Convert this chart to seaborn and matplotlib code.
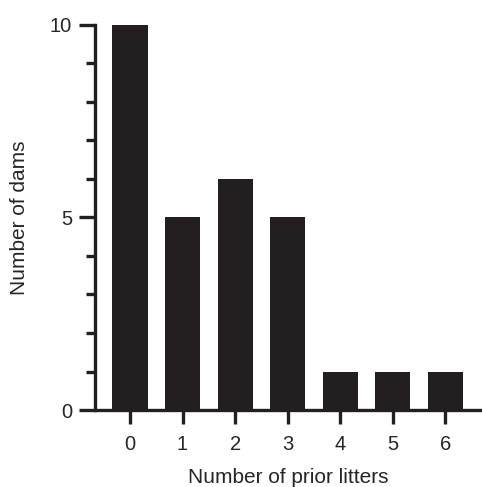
import matplotlib
matplotlib.use("Agg")
import matplotlib.pyplot as plt
import numpy as np
import pandas as pd
import seaborn as sns
from matplotlib.ticker import MultipleLocator

prior_litters = [0, 1, 2, 3, 4, 5, 6]
n_dams = [10, 5, 6, 5, 1, 1, 1]

sns.set_style("ticks")
plt.rcParams["font.family"] = ["Liberation Sans", "DejaVu Sans"]

df = pd.DataFrame({"litters": prior_litters, "dams": n_dams})

fig = plt.figure(figsize=(4.82, 4.87), dpi=100)
ax = fig.add_axes([0.197, 0.158, 0.803, 0.791])
sns.barplot(data=df, x="litters", y="dams", color="#231f20", saturation=1,
            width=0.667, edgecolor="none", ax=ax)

ax.set_xlim(-0.667, 6.70)
ax.set_ylim(0, 10)
ax.yaxis.set_major_locator(MultipleLocator(5))
ax.yaxis.set_minor_locator(MultipleLocator(1))
sns.despine(ax=ax)
for side in ("left", "bottom"):
    ax.spines[side].set_linewidth(2.4)
    ax.spines[side].set_color("#231f20")
ax.tick_params(axis="y", which="major", length=11.5, width=2.4, color="#231f20",
               labelsize=14.5, pad=5)
ax.tick_params(axis="y", which="minor", length=6.5, width=2.4, color="#231f20")
ax.tick_params(axis="x", which="major", length=10, width=2.4, color="#231f20",
               labelsize=14.5, pad=8)
ax.set_xlabel("Number of prior litters", fontsize=15, labelpad=10)
ax.set_ylabel("Number of dams", fontsize=15, labelpad=15)

fig.savefig("out.png", dpi=100)
